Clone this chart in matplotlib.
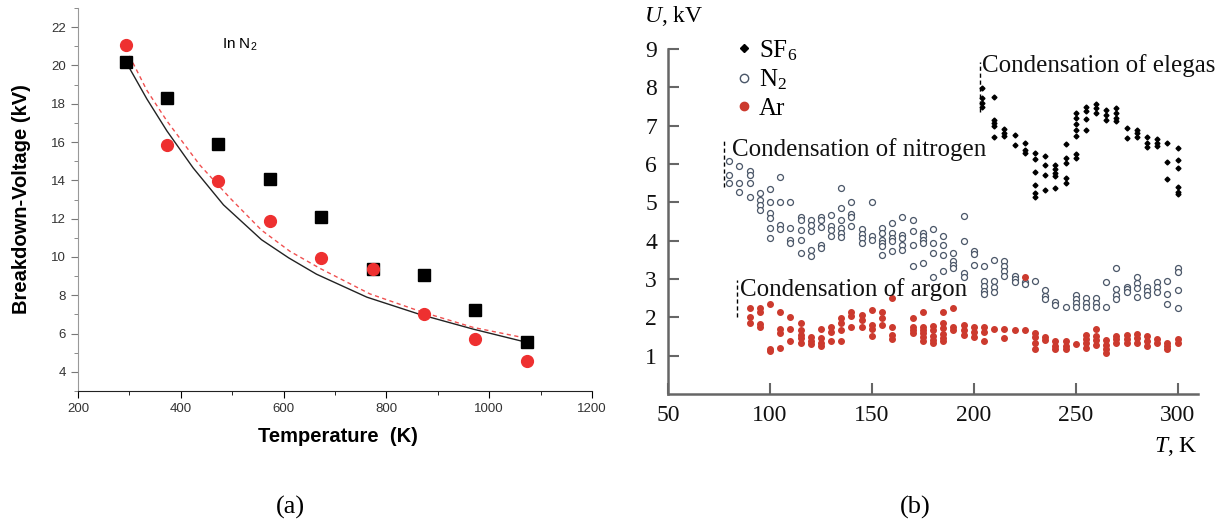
import matplotlib
matplotlib.use('Agg')
import matplotlib.pyplot as plt
from matplotlib.ticker import MultipleLocator
from matplotlib.lines import Line2D

plt.rcParams['mathtext.fontset'] = 'custom'
plt.rcParams['mathtext.rm'] = 'Liberation Serif'
plt.rcParams['mathtext.it'] = 'Liberation Serif:italic'
plt.rcParams['mathtext.sf'] = 'Liberation Sans'

# ---- (a) breakdown voltage in N2 vs temperature ----
temp_a = [293, 373, 473, 573, 673, 773, 873, 973, 1073]
volt_squares = [20.2, 18.28, 15.88, 14.09, 12.07, 9.38, 9.07, 7.23, 5.56]
volt_circles = [21.05, 15.83, 13.95, 11.9, 9.95, 9.35, 7.02, 5.74, 4.56]

# fitted curves
fit_solid_T = [293, 334, 373, 424, 483, 557, 610, 664, 762, 865, 969, 1070]
fit_solid_V = [20.2, 18.25, 16.58, 14.65, 12.72, 10.9, 9.95, 9.1, 7.9, 7.0, 6.23, 5.56]
fit_dash_T = [300, 334, 373, 437, 496, 557, 612, 671, 768, 870, 969, 1066]
fit_dash_V = [20.5, 18.7, 17.1, 14.8, 13.07, 11.4, 10.3, 9.4, 8.07, 7.12, 6.32, 5.79]

# ---- (b) U vs T for SF6, N2, Ar (columns of points per temperature) ----
sf6_temps = [204, 210, 215, 220, 225, 230, 235, 240, 245, 250, 255, 260, 265, 270,
             275, 280, 285, 290, 295, 300]
sf6_volts = [[7.98, 7.72, 7.60, 7.50], [7.74, 7.15, 7.07, 6.98, 6.70], [6.91, 6.82, 6.72],
             [6.76, 6.50], [6.55, 6.37, 6.28], [6.28, 6.13, 5.78, 5.46, 5.24, 5.15],
             [6.22, 5.98, 5.72, 5.33], [5.98, 5.87, 5.76, 5.68, 5.37],
             [6.53, 6.15, 6.02, 5.63, 5.50], [7.33, 7.20, 7.05, 6.89, 6.72, 6.27, 6.15],
             [7.49, 7.37, 7.17, 6.88], [7.57, 7.46, 7.33], [7.42, 7.29, 7.16],
             [7.46, 7.33, 7.20, 7.11], [6.94, 6.68], [6.89, 6.81, 6.70], [6.70, 6.55, 6.44],
             [6.65, 6.55, 6.46], [6.56, 6.04, 5.61], [6.41, 6.11, 5.89, 5.40, 5.28, 5.22]]

n2_temps = [80, 85, 90, 95, 100, 105, 110, 115, 120, 125, 130, 135, 140, 145, 150, 155,
            160, 165, 170, 175, 180, 185, 190, 195, 200, 205, 210, 215, 220, 225, 230,
            235, 240, 245, 250, 255, 260, 265, 270, 275, 280, 285, 290, 295, 300]
n2_volts = [[6.07, 5.72, 5.50], [5.95, 5.50, 5.28], [5.83, 5.72, 5.50, 5.14],
            [5.24, 5.07, 4.94, 4.80], [5.34, 5.02, 4.72, 4.59, 4.33, 4.07],
            [5.67, 5.02, 4.42, 4.30], [5.02, 4.33, 4.02, 3.95],
            [4.61, 4.54, 4.28, 4.02, 3.69], [4.53, 4.41, 4.24, 3.76, 3.60],
            [4.61, 4.53, 4.35, 3.89, 3.80], [4.67, 4.37, 4.28, 4.11],
            [5.37, 4.85, 4.54, 4.33, 4.20, 4.09], [5.00, 4.70, 4.63, 4.37],
            [4.30, 4.18, 4.07, 3.94], [5.02, 4.11, 4.02],
            [4.33, 4.20, 4.02, 3.94, 3.85, 3.63], [4.46, 4.20, 4.07, 3.98, 3.72],
            [4.61, 4.15, 4.07, 3.89, 3.76], [4.54, 4.24, 3.89, 3.34],
            [4.20, 4.11, 4.02, 3.94, 3.41], [4.30, 3.94, 3.67, 3.06],
            [4.11, 3.89, 3.63, 3.22], [3.69, 3.46, 3.37, 3.28], [4.65, 3.98, 3.15, 3.06],
            [3.72, 3.66, 3.37], [3.35, 2.95, 2.82, 2.70, 2.61], [3.49, 2.95, 2.80, 2.66],
            [3.46, 3.33, 3.20, 3.08], [3.08, 3.00, 2.93], [2.93, 2.87], [2.96],
            [2.72, 2.56, 2.47], [2.41, 2.33], [2.28], [2.59, 2.47, 2.37, 2.26],
            [2.50, 2.37, 2.26], [2.50, 2.37, 2.26], [2.91, 2.27], [3.28, 2.73, 2.59, 2.47],
            [2.80, 2.73, 2.65], [3.04, 2.89, 2.76, 2.54], [2.79, 2.68, 2.59],
            [2.93, 2.79, 2.65], [2.96, 2.61, 2.35], [3.28, 3.17, 2.72, 2.24]]

ar_temps = [90, 95, 100, 105, 110, 115, 120, 125, 130, 135, 140, 145, 150, 155, 160,
            170, 175, 180, 185, 190, 195, 200, 205, 210, 215, 220, 225, 230, 235, 240,
            245, 250, 255, 260, 265, 270, 275, 280, 285, 290, 295, 300]
ar_volts = [[2.24, 2.02, 1.85], [2.24, 2.13, 1.83, 1.74], [2.35, 1.17, 1.11],
            [2.13, 1.69, 1.60, 1.19], [2.00, 1.69, 1.39], [1.86, 1.67, 1.54, 1.45, 1.32],
            [1.48, 1.39, 1.31], [1.69, 1.45, 1.32, 1.24], [1.76, 1.63, 1.39],
            [1.98, 1.85, 1.67, 1.39], [2.13, 2.04, 1.74], [2.06, 1.93, 1.76],
            [2.18, 1.80, 1.69, 1.52], [2.13, 1.98, 1.80], [2.50, 1.76, 1.54, 1.43],
            [1.98, 1.76, 1.67, 1.59], [2.15, 1.76, 1.67, 1.59, 1.50, 1.37],
            [1.78, 1.67, 1.52, 1.41, 1.34], [2.13, 1.86, 1.72, 1.57, 1.45, 1.37],
            [2.24, 1.76, 1.67], [1.80, 1.67, 1.54], [1.76, 1.63, 1.50], [1.74, 1.63, 1.39],
            [1.69], [1.69, 1.45], [1.67], [3.05, 1.67], [1.59, 1.48, 1.34, 1.17],
            [1.48, 1.40], [1.37, 1.26, 1.17], [1.37, 1.26, 1.17], [1.31],
            [1.54, 1.43, 1.33, 1.20], [1.69, 1.52, 1.41, 1.28], [1.40, 1.28, 1.17, 1.08],
            [1.52, 1.43, 1.33], [1.54, 1.43, 1.33], [1.57, 1.46, 1.34], [1.52, 1.37, 1.24],
            [1.43, 1.33], [1.34, 1.26, 1.17], [1.43, 1.33]]

# condensation markers
cond_T = [77.3, 84, 203]
cond_lo = [5.4, 2.0, 7.36]
cond_hi = [6.63, 2.98, 8.67]
cond_text = ['Condensation of nitrogen', 'Condensation of argon', 'Condensation of elegas']
cond_text_pos = [(81.5, 6.37), (85.5, 2.72), (203.8, 8.56)]


def flatten(temps, cols):
    xs = [t for t, c in zip(temps, cols) for _ in c]
    ys = [v for c in cols for v in c]
    return xs, ys


fig = plt.figure(figsize=(12.28, 5.27), dpi=100)

# ------------------------- panel (a) -------------------------
ax1 = fig.add_axes([78 / 1228, 1 - 391 / 527, 514 / 1228, 383 / 527])
ax1.plot(fit_solid_T, fit_solid_V, color='#222222', lw=1.0, zorder=2)
ax1.plot(fit_dash_T, fit_dash_V, color='#f05050', lw=1.0, ls=(0, (3, 2.5)), zorder=2)
ax1.plot(temp_a, volt_squares, ls='none', marker='s', ms=8, color='black', zorder=3)
ax1.plot(temp_a, volt_circles, ls='none', marker='o', ms=8.5, color='#ee3030', zorder=4)
ax1.text(480, 21.05, 'In N$_\\mathsf{2}$', fontsize=11, family='Liberation Sans',
         ha='left', va='center')

ax1.set_xlim(200, 1200)
ax1.set_ylim(3, 23)
ax1.xaxis.set_major_locator(MultipleLocator(200))
ax1.xaxis.set_minor_locator(MultipleLocator(100))
ax1.set_yticks(range(4, 23, 2))
ax1.yaxis.set_minor_locator(MultipleLocator(1))
for s in ['top', 'right']:
    ax1.spines[s].set_visible(False)
ax1.spines['left'].set_color('#999999')
ax1.spines['bottom'].set_color('#222222')
ax1.tick_params(which='both', direction='out', labelsize=9.5, labelcolor='#333333')
ax1.tick_params(axis='y', which='both', colors='#777777', labelcolor='#333333')
ax1.tick_params(which='major', length=5)
ax1.tick_params(which='minor', length=3)
for lab in ax1.get_xticklabels() + ax1.get_yticklabels():
    lab.set_family('Liberation Sans')

ax1.set_xlabel('Temperature  (K)', fontsize=14.5, fontweight='bold', family='Liberation Sans')
ax1.xaxis.set_label_coords(0.506, -0.095)
ax1.set_ylabel('Breakdown-Voltage (kV)', fontsize=14.5, fontweight='bold',
               family='Liberation Sans', va='center')
ax1.yaxis.set_label_coords(-0.109, 0.5)

# ------------------------- panel (b) -------------------------
ax2 = fig.add_axes([668 / 1228, 1 - 394 / 527, 530 / 1228, 345 / 527])
sx, sy = flatten(sf6_temps, sf6_volts)
nx, ny = flatten(n2_temps, n2_volts)
rx, ry = flatten(ar_temps, ar_volts)
ax2.plot(nx, ny, ls='none', marker='o', ms=4.3, mfc='white', mec='#4a5668', mew=0.9,
         label='N$_2$', zorder=2)
ax2.plot(rx, ry, ls='none', marker='o', ms=4.0, color='#cc3a2e', mec='#cc3a2e',
         label='Ar', zorder=3)
ax2.plot(sx, sy, ls='none', marker='D', ms=2.5, color='black', label='SF$_6$', zorder=3)

for t, lo, hi in zip(cond_T, cond_lo, cond_hi):
    ax2.plot([t, t], [lo, hi], color='black', lw=1.0, ls=(0, (3, 2)))
for txt, (tx, ty) in zip(cond_text, cond_text_pos):
    ax2.text(tx, ty, txt, fontsize=18, family='Liberation Serif', ha='left', va='center',
             color='#111111')

ax2.set_xlim(50, 310)
ax2.set_ylim(0, 9)
ax2.set_xticks(range(50, 301, 50))
ax2.set_yticks(range(1, 10))
for s in ['top', 'right']:
    ax2.spines[s].set_visible(False)
for s in ['left', 'bottom']:
    ax2.spines[s].set_color('#666666')
    ax2.spines[s].set_linewidth(1.8)
ax2.tick_params(direction='in', length=8, width=1.5, color='#666666', labelsize=17,
                labelcolor='#111111', pad=8)
for lab in ax2.get_xticklabels() + ax2.get_yticklabels():
    lab.set_family('Liberation Serif')

ax2.text(-0.045, 1.097, '$U$, kV', transform=ax2.transAxes, fontsize=17,
         family='Liberation Serif', ha='left', va='center')
ax2.text(1.0, -0.151, '$T$, K', transform=ax2.transAxes, fontsize=17,
         family='Liberation Serif', ha='right', va='center')

handles = [Line2D([], [], ls='none', marker='D', ms=4.0, color='black'),
           Line2D([], [], ls='none', marker='o', ms=6.0, mfc='white', mec='#4a5668', mew=1.0),
           Line2D([], [], ls='none', marker='o', ms=6.0, color='#cc3a2e')]
ax2.legend(handles, ['SF$_6$', 'N$_2$', 'Ar'], loc='upper left',
           bbox_to_anchor=(0.124, 1.032), frameon=False, borderpad=0, borderaxespad=0,
           handlelength=0.8, handletextpad=0.2, labelspacing=0.2,
           prop={'family': 'Liberation Serif', 'size': 18})

fig.text(290 / 1228, 1 - 507 / 527, '(a)', fontsize=19, family='Liberation Serif',
         ha='center', va='center')
fig.text(915 / 1228, 1 - 507 / 527, '(b)', fontsize=19, family='Liberation Serif',
         ha='center', va='center')

fig.savefig('out.png', dpi=100)
